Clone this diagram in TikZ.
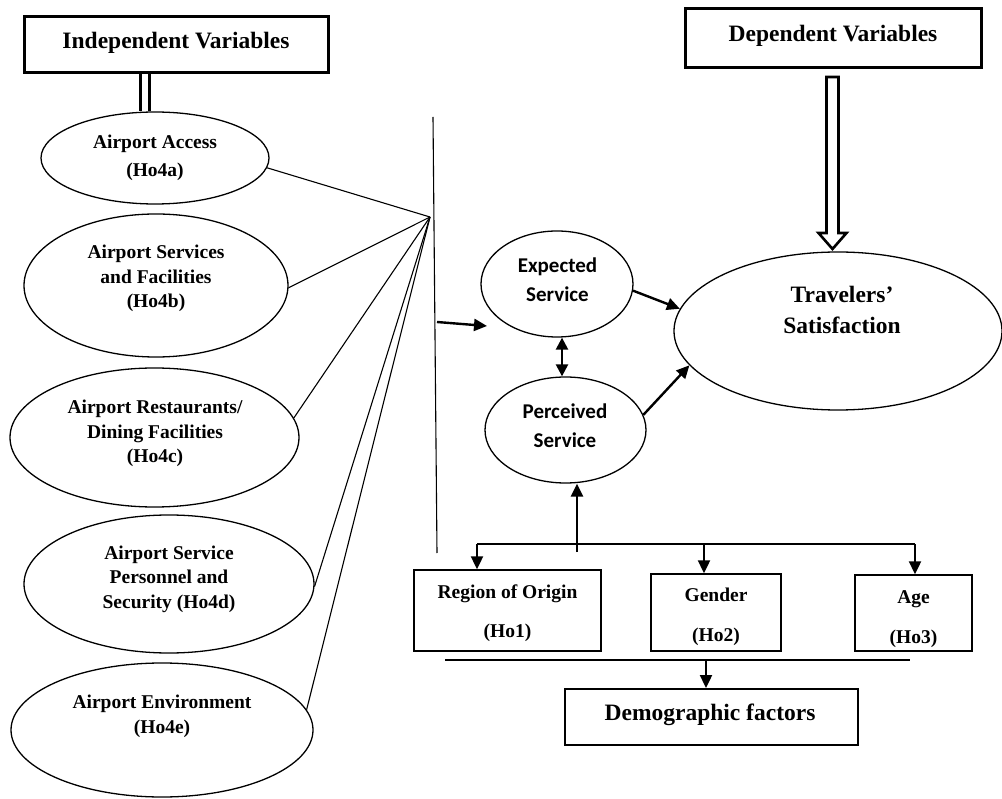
\documentclass[tikz,border=0pt]{standalone}
\usepackage{fontspec}
\setmainfont{Liberation Serif}
\newfontfamily\calib{Carlito}
\usetikzlibrary{shapes.geometric,arrows.meta,calc}
\begin{document}
\begin{tikzpicture}[x=1pt,y=-1pt,
 ell/.style={draw,ellipse,line width=1.3pt,inner sep=0pt},
 lbl/.style={font=\bfseries\fontsize{19.5}{24.5}\selectfont,align=center,inner sep=0pt,anchor=base},
 svc/.style={font=\calib\bfseries\fontsize{21}{29}\selectfont,align=center,inner sep=0pt,anchor=base},
 ttl/.style={font=\bfseries\fontsize{23.5}{28}\selectfont,inner sep=0pt,anchor=base},
 tbox/.style={draw,line width=3pt,inner sep=0pt},
 dbox/.style={draw,line width=1.5pt,inner sep=0pt},
 thinline/.style={line width=1.1pt},
 arr/.style={line width=2.4pt,-{Triangle[length=13pt,width=12pt]}},
 arrtwo/.style={line width=2.4pt,{Triangle[length=12pt,width=12pt]}-{Triangle[length=12pt,width=12pt]}}]
\useasboundingbox (0,0) rectangle (1002,799);

% title boxes
\node[tbox,minimum width=304pt,minimum height=56pt] (ib) at (176,45) {};
\node[ttl] (ibt) at (176,49) {Independent Variables};
\node[tbox,minimum width=296pt,minimum height=59pt] (db) at (833,38.5) {};
\node[ttl] (dbt) at (833,42) {Dependent Variables};

% independent ellipses (text anchor = baseline of last line)
\node[ell,minimum width=228pt,minimum height=92pt] (e1) at (155,158) {};
\node[lbl] (t1) at (155,177) {Airport Access\\[4pt](Ho4a)};
\node[ell,minimum width=264pt,minimum height=143pt] (e2) at (156,285.5) {};
\node[lbl] (t2) at (156,308) {Airport Services\\and Facilities\\(Ho4b)};
\node[ell,minimum width=289pt,minimum height=139pt] (e3) at (154.5,437.5) {};
\node[lbl] (t3) at (155,463) {Airport Restaurants/\\Dining Facilities\\(Ho4c)};
\node[ell,minimum width=290pt,minimum height=138pt] (e4) at (169,584) {};
\node[lbl] (t4) at (169,608) {Airport Service\\Personnel and\\Security (Ho4d)};
\node[ell,minimum width=302pt,minimum height=134pt] (e5) at (162,730) {};
\node[lbl] (t5) at (162,733) {Airport Environment\\(Ho4e)};

% double line from Independent box
\coordinate (dla) at (140,0);
\coordinate (dlb) at (149.5,0);
\draw[line width=3pt] (ib.south -| dla) -- (e1.north -| dla);
\draw[line width=3pt] (ib.south -| dlb) -- (e1.north -| dlb);

% fan of lines
\coordinate (cv) at (430,217);
\draw[thinline] (e1.-5) -- (cv);
\draw[thinline] (e2.-1) -- (cv);
\draw[thinline] (e3.8) -- (cv);
\draw[thinline] (e4.-1) -- (cv);
\draw[thinline] (e5.8) -- (cv);

% vertical divider
\coordinate (vt) at (433,117);
\coordinate (vb) at (437,553);
\draw[thinline] (vt) -- (vb);
\coordinate (va) at (437,322);
\coordinate (vae) at (487,326);
\draw[arr] (va) -- (vae);

% service ellipses
\node[ell,minimum width=152pt,minimum height=106pt] (es) at (557,284) {};
\node[svc] (est) at (557.5,302) {Expected\\Service};
\node[ell,minimum width=161pt,minimum height=106pt] (ps) at (565.5,430) {};
\node[svc] (pst) at (565,448) {Perceived\\Service};
\node[ell,minimum width=328pt,minimum height=158pt] (ts) at (838,331) {};
\node[ttl,align=center,font=\bfseries\fontsize{23.5}{31}\selectfont] (tst) at (842,334) {Travelers’\\Satisfaction};

\coordinate (dx) at (562,0);
\draw[arrtwo] (es.south -| dx) -- (ps.north -| dx);
\draw[arr] (es.-5) -- (ts.172);
\draw[arr] (ps.11) -- (ts.193);

% hollow arrow from Dependent box
\coordinate (ha) at (832.5,77);
\coordinate (hb) at (832.5,249);
\draw[line width=2.6pt,fill=white,line join=miter]
  ($(ha)+(-6,0)$) -- ($(hb)+(-6,-16)$) -- ($(hb)+(-14,-16)$) -- (hb)
  -- ($(hb)+(14,-16)$) -- ($(hb)+(6,-16)$) -- ($(ha)+(6,0)$) -- cycle;

% demographic boxes
\node[dbox,minimum width=187pt,minimum height=81pt] (rg) at (507.5,610.5) {};
\node[lbl] (rgt) at (507.5,637) {Region of Origin\\[14.5pt](Ho1)};
\node[dbox,minimum width=130pt,minimum height=77pt] (gd) at (716,612.5) {};
\node[lbl] (gdt) at (716,641) {Gender\\[15.5pt](Ho2)};
\node[dbox,minimum width=117pt,minimum height=76pt] (ag) at (913.5,613) {};
\node[lbl] (agt) at (913.5,643) {Age\\[15.5pt](Ho3)};
\node[draw,line width=2pt,inner sep=0pt,minimum width=293pt,minimum height=56pt] (dm) at (711.5,717) {};
\node[ttl] (dmt) at (710,720) {Demographic factors};

% perceived arrow and bus
\coordinate (pb) at (577,552);
\draw[arr] (pb) -- (pb |- ps.south);
\coordinate (ba) at (477,544);
\coordinate (bb) at (704,544);
\coordinate (bc) at (915,544);
\draw[line width=1.5pt] (ba) -- (bc);
\draw[arr] (ba) -- (ba |- rg.north);
\draw[arr] (bb) -- (bb |- gd.north);
\draw[arr] (bc) -- (bc |- ag.north);

% bottom line and arrow
\coordinate (la) at (445,660);
\coordinate (lb) at (910,660);
\draw[line width=1.5pt] (la) -- (lb);
\coordinate (lc) at (706,660);
\draw[arr] (lc) -- (lc |- dm.north);
\end{tikzpicture}
\end{document}
